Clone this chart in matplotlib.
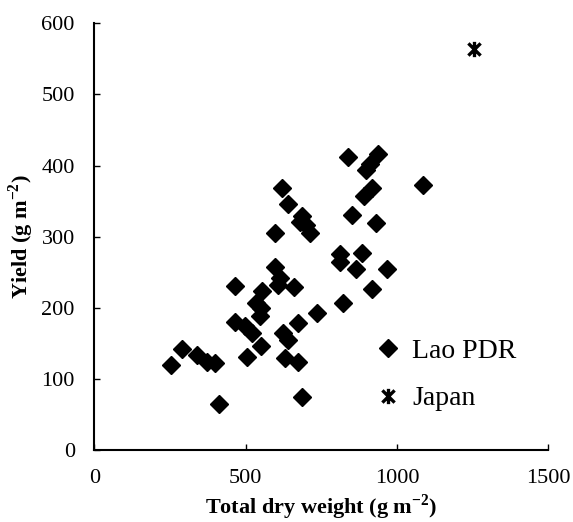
import numpy as np
import matplotlib.pyplot as plt
from matplotlib.path import Path

plt.rcParams['font.family'] = ['Liberation Serif', 'DejaVu Serif']
plt.rcParams['mathtext.fontset'] = 'custom'
plt.rcParams['mathtext.rm'] = 'Liberation Serif'
plt.rcParams['mathtext.bf'] = 'Liberation Serif:bold'

# Total dry weight (g m-2) and yield (g m-2) per site
lao_dw = [252, 289, 340, 371, 399, 413, 465, 466, 498, 503,
          520, 535, 552, 546, 550, 555, 597, 597, 613, 607,
          619, 641, 624, 641, 630, 661, 672, 674, 685, 685,
          680, 699, 712, 735, 812, 812, 823, 837, 850, 865,
          885, 891, 897, 910, 916, 919, 930, 936, 967, 1087]
lao_yield = [120, 142, 133, 124, 123, 65, 180, 231, 174, 131,
             164, 207, 200, 188, 146, 224, 305, 257, 242, 232,
             368, 346, 164, 154, 130, 229, 124, 179, 74, 329,
             321, 316, 305, 193, 275, 265, 207, 412, 331, 254,
             277, 357, 394, 402, 369, 227, 319, 416, 254, 372]

japan_dw = [1255]
japan_yield = [564]

# asterisk: an x with a vertical bar through it
star = Path([(-1, -1), (1, 1), (-1, 1), (1, -1), (0, -1.25), (0, 1.25)],
            [Path.MOVETO, Path.LINETO, Path.MOVETO, Path.LINETO,
             Path.MOVETO, Path.LINETO])

fig = plt.figure(figsize=(5.73, 5.22), dpi=100)
ax = fig.add_axes([0.1646, 0.1379, 0.7923, 0.8175])

ax.plot(lao_dw, lao_yield, linestyle='none', marker='D', markersize=8.7,
        color='black', label='Lao PDR')
ax.plot(japan_dw, japan_yield, linestyle='none', marker=star, markersize=11,
        markeredgewidth=2.4, color='black', markerfacecolor='none',
        label='Japan')

ax.set_xlim(0, 1500)
ax.set_ylim(0, 600)
ax.set_xticks([0, 500, 1000, 1500])
ax.set_yticks([0, 100, 200, 300, 400, 500, 600])

for side in ('top', 'right'):
    ax.spines[side].set_visible(False)
for side in ('left', 'bottom'):
    ax.spines[side].set_linewidth(1.5)

ax.tick_params(direction='in', length=4, width=1, labelsize=16)
ax.tick_params(axis='x', pad=14)
ax.tick_params(axis='y', pad=14)

ax.set_xlabel('Total dry weight (g m$^{\\mathbf{-2}}$)', fontsize=16,
              fontweight='bold', labelpad=3)
ax.set_ylabel('Yield (g m$^{\\mathbf{-2}}$)', fontsize=16,
              fontweight='bold', labelpad=4)

ax.legend(loc='center left', bbox_to_anchor=(0.605, 0.176), frameon=False,
          fontsize=20, handlelength=0.6, handletextpad=0.55, labelspacing=0.8,
          borderaxespad=0)

fig.savefig('out.png', dpi=100)
